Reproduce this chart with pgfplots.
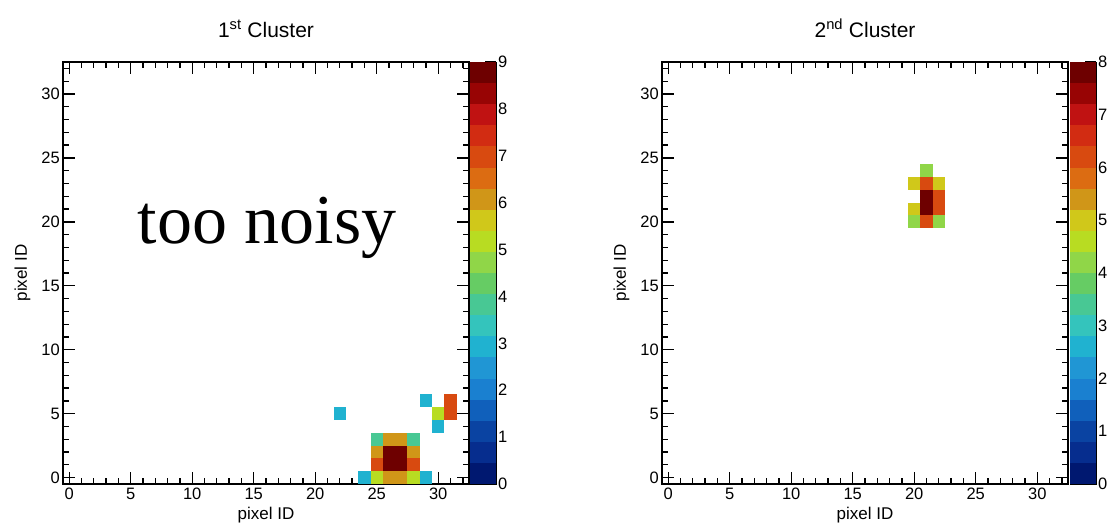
\documentclass[border=0pt]{standalone}
\usepackage{fontspec}
\setmainfont{Liberation Sans}
\newfontfamily\notefont{Liberation Serif}
\usepackage{pgfplots}
\pgfplotsset{compat=1.18}

% 20-level palette, one colour per contour band
\pgfplotsset{
  colormap={hitpal}{
    rgb255=(0,24,112) rgb255=(6,45,142) rgb255=(10,67,162) rgb255=(16,96,187)
    rgb255=(26,128,208) rgb255=(32,150,212) rgb255=(32,178,208) rgb255=(52,196,188)
    rgb255=(72,200,148) rgb255=(102,204,100) rgb255=(144,214,72) rgb255=(184,220,34)
    rgb255=(208,200,26) rgb255=(208,150,24) rgb255=(220,108,18) rgb255=(216,74,16)
    rgb255=(210,44,18) rgb255=(192,18,18) rgb255=(152,4,4) rgb255=(110,0,0)
  },
}

% one detector pixel (axis is 406pt x 422pt for 33 x 33 pixels)
\pgfdeclareplotmark{pixelcell}{%
  \pgfpathrectanglecorners{\pgfpoint{-6.2pt}{-6.45pt}}{\pgfpoint{6.2pt}{6.45pt}}%
  \pgfusepathqfill}
% one level of the palette bar (26pt x 422pt for 20 levels)
\pgfdeclareplotmark{paletteband}{%
  \pgfpathrectanglecorners{\pgfpoint{-13pt}{-10.6pt}}{\pgfpoint{13pt}{10.6pt}}%
  \pgfusepathqfill}

\pgfplotsset{
  hitmap/.style={
    scale only axis, width=406pt, height=422pt,
    xmin=-0.5, xmax=32.5, ymin=-0.5, ymax=32.5,
    xtick={0,5,...,30}, ytick={0,5,...,30},
    minor xtick={0,...,32}, minor ytick={0,...,32},
    tick align=inside, major tick length=12pt, minor tick length=6pt,
    every tick/.style={black, line width=1.3pt},
    axis line style={line width=1.4pt},
    axis on top,
    colormap access=const, point meta min=0,
    /pgf/number format/assume math mode=true,
    tick label style={font=\fontsize{16.5}{16.5}\selectfont},
    xticklabel style={anchor=north, inner sep=0pt, yshift=-4pt},
    yticklabel style={anchor=east, inner sep=0pt, xshift=-3pt},
    xlabel={pixel ID}, ylabel={pixel ID},
    label style={font=\fontsize{17}{17}\selectfont},
    xlabel style={at={(axis description cs:0.5,-0.083)}, anchor=base},
    ylabel style={at={(axis description cs:-0.0887,0.5)}, anchor=base},
    title style={at={(axis description cs:0.5,1.0445)}, anchor=base,
      font=\fontsize{21}{21}\selectfont},
  },
  palette/.style={
    scale only axis, width=26pt, height=422pt,
    xmin=0, xmax=1, ymin=0,
    xtick=\empty, ytick pos=right, yticklabel pos=right,
    tick align=inside, major tick length=11pt,
    every tick/.style={black, line width=1.3pt},
    axis line style={line width=1pt},
    axis on top,
    colormap access=const, point meta min=0,
    /pgf/number format/assume math mode=true,
    tick label style={font=\fontsize{16.5}{16.5}\selectfont},
    yticklabel style={anchor=west, inner sep=0pt, xshift=2pt},
  },
  cells/.style={scatter, only marks, mark=#1, point meta=explicit,
    scatter/use mapped color={draw=mapped color, fill=mapped color}},
}

\pgfplotstableread{
x  y  c
24 0  3
25 0  5
26 0  6
27 0  6
28 0  5
29 0  3
25 1  7
26 1  9
27 1  9
28 1  7
25 2  6
26 2  9
27 2  9
28 2  6
25 3  4
26 3  6
27 3  6
28 3  4
22 5  3
29 6  3
30 4  3
30 5  5
31 5  7
31 6  7
}\firstcluster

\pgfplotstableread{
x  y  c
21 24 4
20 23 5
21 23 6
22 23 5
21 22 8
22 22 6
20 21 5
21 21 8
22 21 6
20 20 4
21 20 6
22 20 4
}\secondcluster

\pgfplotstableread{
x   y     c
0.5 0.225 0.225
0.5 0.675 0.675
0.5 1.125 1.125
0.5 1.575 1.575
0.5 2.025 2.025
0.5 2.475 2.475
0.5 2.925 2.925
0.5 3.375 3.375
0.5 3.825 3.825
0.5 4.275 4.275
0.5 4.725 4.725
0.5 5.175 5.175
0.5 5.625 5.625
0.5 6.075 6.075
0.5 6.525 6.525
0.5 6.975 6.975
0.5 7.425 7.425
0.5 7.875 7.875
0.5 8.325 8.325
0.5 8.775 8.775
}\paletteA

\pgfplotstableread{
x   y   c
0.5 0.2 0.2
0.5 0.6 0.6
0.5 1.0 1.0
0.5 1.4 1.4
0.5 1.8 1.8
0.5 2.2 2.2
0.5 2.6 2.6
0.5 3.0 3.0
0.5 3.4 3.4
0.5 3.8 3.8
0.5 4.2 4.2
0.5 4.6 4.6
0.5 5.0 5.0
0.5 5.4 5.4
0.5 5.8 5.8
0.5 6.2 6.2
0.5 6.6 6.6
0.5 7.0 7.0
0.5 7.4 7.4
0.5 7.8 7.8
}\paletteB

\begin{document}
\begin{tikzpicture}
% first cluster
\begin{axis}[hitmap, at={(63pt,39pt)}, anchor=south west, point meta max=9,
    title={1\textsuperscript{st} Cluster}]
  \addplot[cells=pixelcell] table[meta=c] {\firstcluster};
  \node[anchor=base, font=\notefont\fontsize{70}{70}\selectfont]
    at (axis cs:16.1,18.3) {too noisy};
\end{axis}
\begin{axis}[palette, at={(470pt,39pt)}, anchor=south west,
    ymax=9, point meta max=9, ytick={0,...,9}]
  \addplot[cells=paletteband] table[meta=c] {\paletteA};
\end{axis}
% second cluster
\begin{axis}[hitmap, at={(662pt,39pt)}, anchor=south west, point meta max=8,
    title={2\textsuperscript{nd} Cluster}]
  \addplot[cells=pixelcell] table[meta=c] {\secondcluster};
\end{axis}
\begin{axis}[palette, at={(1070pt,39pt)}, anchor=south west,
    ymax=8, point meta max=8, ytick={0,...,8}]
  \addplot[cells=paletteband] table[meta=c] {\paletteB};
\end{axis}
\pgfresetboundingbox
\useasboundingbox (0,0) rectangle (1110pt,523pt);
\end{tikzpicture}
\end{document}
